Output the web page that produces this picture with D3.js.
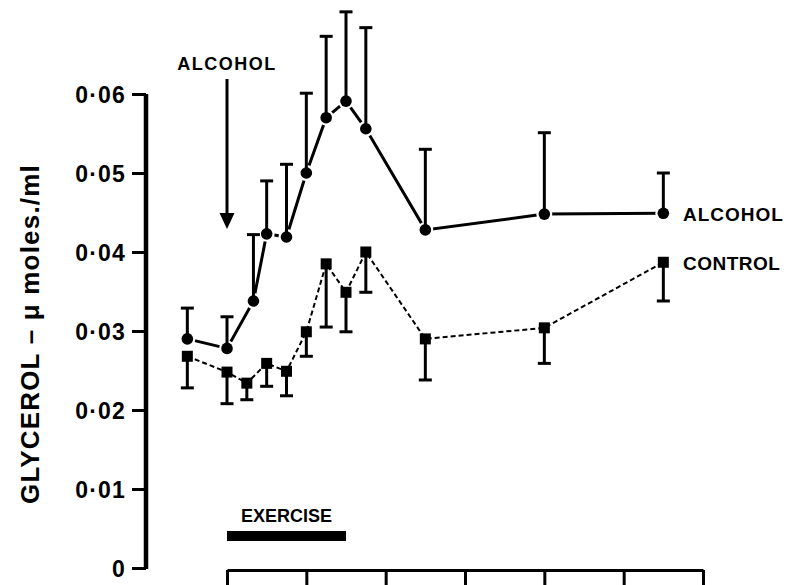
<!DOCTYPE html>
<html>
<head>
<meta charset="utf-8">
<script src="https://cdn.jsdelivr.net/npm/d3@7"></script>
<style>
  html, body { margin: 0; padding: 0; background: #fff; }
  svg { display: block; font-family: "Liberation Sans", Arial, Helvetica, sans-serif; }
</style>
</head>
<body>
<svg id="chart" width="793" height="585"></svg>
<script>
// ---- Data (time in minutes after alcohol; glycerol in µmoles/ml) ----
const alcoholTimes  = [-15, 0, 10, 15, 22.5, 30, 37.5, 45, 52.5, 75, 120, 165];
const alcoholValues = [0.0290, 0.0278, 0.0338, 0.0423, 0.0419, 0.0500, 0.0570, 0.0591, 0.0556, 0.0428, 0.0448, 0.0449];
const alcoholUpper  = [0.0329, 0.0318, 0.0422, 0.0490, 0.0511, 0.0601, 0.0673, 0.0704, 0.0684, 0.0530, 0.0551, 0.0500];

const controlTimes  = [-15, 0, 7.5, 15, 22.5, 30, 37.5, 45, 52.5, 75, 120, 165];
const controlValues = [0.0268, 0.0248, 0.0234, 0.0259, 0.0249, 0.0299, 0.0385, 0.0349, 0.0400, 0.0290, 0.0304, 0.0387];
const controlLower  = [0.0228, 0.0208, 0.0213, 0.0230, 0.0218, 0.0268, 0.0305, 0.0299, 0.0349, 0.0238, 0.0259, 0.0338];

const yTicks = [0, 0.01, 0.02, 0.03, 0.04, 0.05, 0.06];
const yTickLabels = ["0", "0·01", "0·02", "0·03", "0·04", "0·05", "0·06"];
const xTicks = [0, 30, 60, 90, 120, 150, 180];
const exercisePeriod = [0, 45];
const alcoholGivenAt = 0;

const seriesLabels = ["ALCOHOL", "CONTROL"];
const yAxisTitle = "GLYCEROL – μ moles./ml";

// ---- Layout ----
const svg = d3.select("#chart");
const x = d3.scaleLinear().domain([0, 180]).range([227, 703]);
const y = d3.scaleLinear().domain([0, 0.06]).range([568, 94]);
const ink = "#000";

// Y axis
const yAxis = d3.axisLeft(y)
  .tickValues(yTicks)
  .tickFormat((d, i) => yTickLabels[i])
  .tickSize(14)
  .tickPadding(6);
const gy = svg.append("g").attr("transform", "translate(146,0)").call(yAxis);
gy.select(".domain").attr("d", `M0,${y(0.06)}V${y(0) + 1}`).attr("stroke", ink).attr("stroke-width", 4.5);
gy.selectAll(".tick line").attr("stroke", ink).attr("stroke-width", 3);
gy.selectAll(".tick text")
  .attr("fill", ink)
  .attr("font-size", 23)
  .attr("font-weight", "bold")
  .attr("letter-spacing", 1.2)
  .attr("dy", "0.35em")
  .attr("font-family", "Liberation Sans, Arial, sans-serif");

// X axis (ticks down, no labels visible)
const xAxis = d3.axisBottom(x).tickValues(xTicks).tickFormat("").tickSize(22).tickSizeOuter(0);
const gx = svg.append("g").attr("transform", "translate(0,570)").call(xAxis);
gx.select(".domain").attr("stroke", ink).attr("stroke-width", 3);
gx.selectAll(".tick line").attr("stroke", ink).attr("stroke-width", 3);

// Y axis title
svg.append("text")
  .attr("transform", "translate(39,334) rotate(-90)")
  .attr("text-anchor", "middle")
  .attr("font-size", 26)
  .attr("font-weight", "bold")
  .attr("letter-spacing", 1.2)
  .attr("fill", ink)
  .text(yAxisTitle);

// Exercise bar
svg.append("rect")
  .attr("x", x(exercisePeriod[0]))
  .attr("y", 531)
  .attr("width", x(exercisePeriod[1]) - x(exercisePeriod[0]))
  .attr("height", 10)
  .attr("fill", ink);
svg.append("text")
  .attr("x", (x(exercisePeriod[0]) + x(exercisePeriod[1])) / 2)
  .attr("y", 522)
  .attr("text-anchor", "middle")
  .attr("font-size", 18)
  .attr("font-weight", "bold")
  .attr("fill", ink)
  .text("EXERCISE");

// Alcohol arrow
const ax = x(alcoholGivenAt);
svg.append("text")
  .attr("x", ax)
  .attr("y", 70)
  .attr("text-anchor", "middle")
  .attr("font-size", 18)
  .attr("font-weight", "bold")
  .attr("letter-spacing", 1.5)
  .attr("fill", ink)
  .text("ALCOHOL");
svg.append("line")
  .attr("x1", ax).attr("x2", ax).attr("y1", 79).attr("y2", 215)
  .attr("stroke", ink).attr("stroke-width", 3);
svg.append("path")
  .attr("d", `M${ax - 7.5},213 L${ax + 7.5},213 L${ax},229 Z`)
  .attr("fill", ink);

// Build series
const alcohol = alcoholTimes.map((t, i) => ({ t, v: alcoholValues[i], e: alcoholUpper[i] }));
const control = controlTimes.map((t, i) => ({ t, v: controlValues[i], e: controlLower[i] }));

const line = d3.line().x(d => x(d.t)).y(d => y(d.v));

// Lines
svg.append("path").datum(control)
  .attr("d", line)
  .attr("fill", "none")
  .attr("stroke", ink)
  .attr("stroke-width", 2)
  .attr("stroke-dasharray", "5,3");
svg.append("path").datum(alcohol)
  .attr("d", line)
  .attr("fill", "none")
  .attr("stroke", ink)
  .attr("stroke-width", 3);

// White halo beneath markers to leave a small gap where lines meet
svg.append("g").selectAll("circle").data(alcohol).join("circle")
  .attr("cx", d => x(d.t)).attr("cy", d => y(d.v)).attr("r", 8)
  .attr("fill", "#fff");

// Error bars
function errorBars(data) {
  const g = svg.append("g");
  data.forEach(d => {
    g.append("line")
      .attr("x1", x(d.t)).attr("x2", x(d.t))
      .attr("y1", y(d.v)).attr("y2", y(d.e))
      .attr("stroke", ink).attr("stroke-width", 3);
    g.append("line")
      .attr("x1", x(d.t) - 6.5).attr("x2", x(d.t) + 6.5)
      .attr("y1", y(d.e)).attr("y2", y(d.e))
      .attr("stroke", ink).attr("stroke-width", 3);
  });
}
errorBars(alcohol);
errorBars(control);

// Markers
svg.append("g").selectAll("circle").data(alcohol).join("circle")
  .attr("cx", d => x(d.t)).attr("cy", d => y(d.v)).attr("r", 5.8)
  .attr("fill", ink);
svg.append("g").selectAll("rect").data(control).join("rect")
  .attr("x", d => x(d.t) - 5.5).attr("y", d => y(d.v) - 5.5)
  .attr("width", 11).attr("height", 11)
  .attr("fill", ink);

// Series labels at right end
svg.append("text")
  .attr("x", 683).attr("y", 214).attr("dy", "0.35em")
  .attr("font-size", 19).attr("font-weight", "bold").attr("letter-spacing", 1)
  .attr("fill", ink).text(seriesLabels[0]);
svg.append("text")
  .attr("x", 683).attr("y", 263).attr("dy", "0.35em")
  .attr("font-size", 19).attr("font-weight", "bold").attr("letter-spacing", 0.5)
  .attr("fill", ink).text(seriesLabels[1]);
</script>
</body>
</html>
